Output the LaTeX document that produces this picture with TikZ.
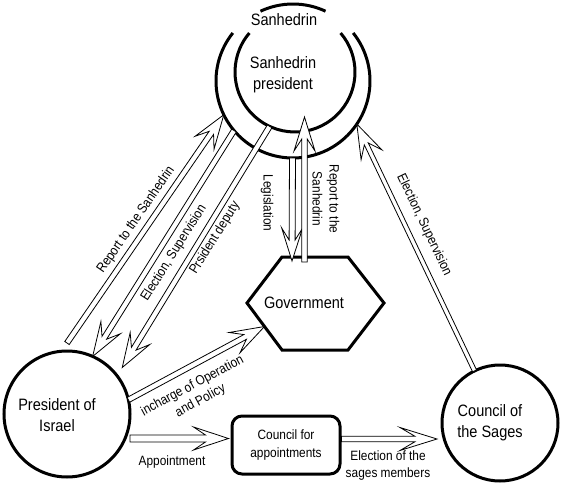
\documentclass[tikz,border=0pt]{standalone}
\usepackage{fontspec}
\setmainfont[FakeStretch=0.88]{Liberation Sans}
\usetikzlibrary{calc}
\newcommand\fatarrow[6]{%
  \coordinate (fa-K) at ($(#2)!#4!(#1)$);
  \coordinate (fa-J) at ($(#2)!#6!(#1)$);
  \draw[fatline] ($(#1)!#3!90:(#2)$) -- ($(fa-J)!#3!90:(#2)$) -- ($(fa-K)!#5!90:(#2)$) -- (#2)
     -- ($(fa-K)!#5!-90:(#2)$) -- ($(fa-J)!#3!-90:(#2)$) -- ($(#1)!#3!-90:(#2)$) -- cycle;
}
\tikzset{
  thickline/.style={line width=3pt},
  fatline/.style={draw, line width=0.8pt, fill=white, line join=miter},
  ghost/.style={circle, inner sep=0pt, outer sep=0pt},
  bigcircle/.style={circle, draw, line width=3pt, inner sep=0pt, outer sep=0pt},
  maintext/.style={align=center, inner sep=0pt, font=\fontsize{16.5}{21}\selectfont},
  lbl/.style={inner sep=0pt, font=\fontsize{13.5}{17}\selectfont},
}
\begin{document}
\begin{tikzpicture}[x=1pt, y=-1pt]
\useasboundingbox[fill=white] (0,0) rectangle (563,490);

% Sanhedrin rings
\node[ghost, minimum size=154pt] (san) at (293,81) {};
\node[ghost, minimum size=120pt] (sanin) at (295,72) {};
\draw[thickline] ([shift={(293,81)}] -141.4:77) arc[start angle=-141.4, end angle=-398.6, radius=77];
\draw[thickline] ([shift={(293,81)}] -65:77) arc[start angle=-65, end angle=-115, radius=77];
\draw[thickline] ([shift={(295,72)}] -139.5:60) arc[start angle=-139.5, end angle=-400.5, radius=60];
\node[maintext] (santop) at (284,20) {Sanhedrin};
\node[maintext] (santext) at (283,75) {Sanhedrin\\president};

% President of Israel
\node[bigcircle, minimum size=126pt] (pres) at (67,414) {};
\node[maintext] (prestext) at (57,415) {President of\\Israel};

% Council of the Sages
\node[bigcircle, minimum size=116pt] (sages) at (500,423) {};
\node[maintext] (sagestext) at (490,423) {Council of\\the Sages};

% Council for appointments
\node[draw, line width=3pt, rounded corners=10pt, minimum width=108pt, minimum height=58pt,
      align=center, inner sep=0pt, font=\fontsize{13.5}{18}\selectfont] (appt) at (286,445) {Council for\\appointments};

% Government hexagon
\draw[thickline, line join=miter] (282,257) coordinate (gTL) -- (348,257) coordinate (gTR)
  -- (384,303) coordinate (gR) -- (348,350) coordinate (gBR) -- (282,350) coordinate (gBL)
  -- (247,303) coordinate (gL) -- cycle;
\node[maintext] (gov) at (304,303) {Government};

% arrow end points
\coordinate (a1s) at ($(pres.north)+(0,-8)$);
\coordinate (a3t) at ($(pres.40)+(7,-6)$);
\coordinate (a4t) at ($(gL)!0.5!(gBL)$);
\coordinate (a5s) at ($(san.south)+(-0.5,0)$);
\coordinate (a5t) at ($(gTL)+(10,4)$);
\coordinate (a6s) at ($(gTL)+(22.5,5)$);
\coordinate (a6t) at ($(sanin.center)+(9.5,45)$);
\coordinate (a8t) at ($(appt.west)+(-2,-6.5)$);
\coordinate (a8s) at (pres.east |- a8t);
\coordinate (a9s) at ($(appt.east)+(0,-6)$);
\coordinate (a9t) at ($(a9s -| sages.west)+(-5,0)$);

% arrows
\fatarrow{a1s}{san.206}{2.7pt}{34pt}{11.5pt}{22pt}
\fatarrow{san.220}{pres.66}{2.7pt}{34pt}{11.5pt}{22pt}
\fatarrow{sanin.245.7}{a3t}{2.7pt}{34pt}{11.5pt}{22pt}
\fatarrow{pres.13}{a4t}{2.7pt}{34pt}{11.5pt}{22pt}
\fatarrow{a5s}{a5t}{3pt}{33pt}{10.5pt}{21pt}
\fatarrow{a6s}{a6t}{2.7pt}{34pt}{10.5pt}{22pt}
\fatarrow{sages.116}{san.-34}{2.2pt}{34pt}{11.5pt}{22pt}
\fatarrow{a8s}{a8t}{3.5pt}{35pt}{11.5pt}{23pt}
\fatarrow{a9s}{a9t}{2.7pt}{37pt}{11.5pt}{22pt}

% labels
\node[lbl, rotate=55.5] (l1) at (136,220) {Report to the Sanhedrin};
\node[lbl, rotate=57.9] (l2) at (174,253) {Election, Supervision};
\node[lbl, rotate=58.2] (l3) at (215,238) {Prsident deputy};
\node[lbl, rotate=28.3, align=center] (l4) at (196.5,393.5) {incharge of Operation\\and Policy};
\node[lbl, rotate=-90] (l5) at (267,203) {Legislation};
\node[lbl, rotate=-90, align=center] (l6) at (326,199) {Report to the\\Sanhedrin};
\node[lbl, rotate=-64.5] (l7) at (424,225) {Election, Supervision};
\node[lbl] (l8) at (172,462) {Appointment};
\node[lbl, align=center] (l9) at (388,466) {Election of the\\sages members};
\end{tikzpicture}
\end{document}
